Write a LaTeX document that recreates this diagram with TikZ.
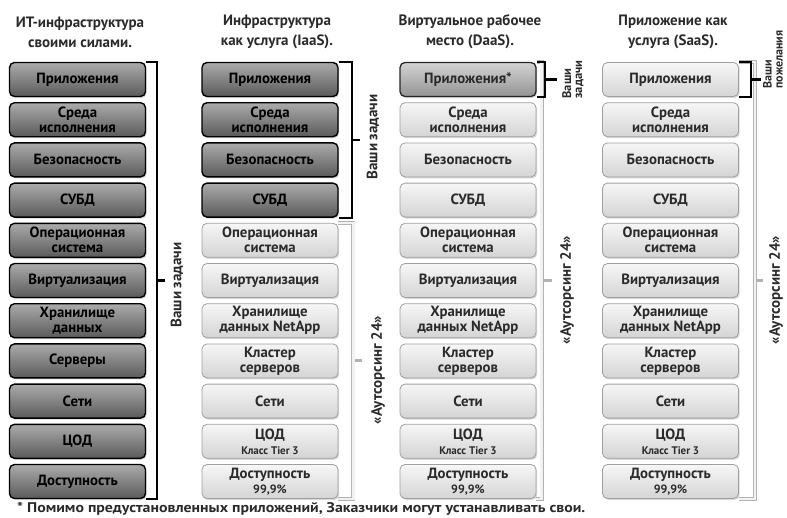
\documentclass[tikz,border=0pt]{standalone}
\usepackage{fontspec}
\setmainfont{PT Sans}
\usetikzlibrary{shadows,calc}
\definecolor{txt}{HTML}{2A2A2A}
\definecolor{darktop}{HTML}{ABABAB}
\definecolor{darkbot}{HTML}{5A5A5A}
\definecolor{midtop}{HTML}{D4D4D4}
\definecolor{midbot}{HTML}{939393}
\definecolor{lighttop}{HTML}{F6F6F6}
\definecolor{lightbot}{HTML}{D4D4D4}
\newcommand{\smalltier}{\fontsize{11}{11.5}\selectfont}
\newcommand{\smallpct}{\fontsize{12}{12.5}\selectfont}
\def\lst{{Среда\\исполнения},{Безопасность},{СУБД},{Операционная\\система},{Виртуализация},{Хранилище\\данных NetApp},{Кластер\\серверов},{Сети},{ЦОД\\{\smalltier Класс Tier 3}},{Доступность\\{\smallpct 99,9\%}}}
\begin{document}
\begin{tikzpicture}[x=1pt,y=-1pt,
  box/.style={rounded corners=5pt, minimum width=136pt, minimum height=34pt,
    align=center, inner sep=1pt, font=\bfseries\fontsize{14.8}{15}\selectfont, text=txt},
  lightbox/.style={box, draw=gray!75, line width=0.8pt, top color=lighttop, bottom color=lightbot,
    drop shadow={shadow xshift=1.2pt, shadow yshift=-1.5pt, opacity=0.3}},
  darkbox/.style={box, draw=black, line width=1.4pt, top color=darktop, bottom color=darkbot,
    text=black, drop shadow={shadow xshift=1.2pt, shadow yshift=-1.5pt, opacity=0.3}},
  midbox/.style={box, draw=black!85, line width=1.3pt, top color=midtop, bottom color=midbot,
    drop shadow={shadow xshift=1.2pt, shadow yshift=-1.5pt, opacity=0.3}},
  darkbr/.style={draw=black, line width=2.2pt},
  lightbr/.style={draw=gray!60, line width=0.8pt, double=gray!10, double distance=2.4pt},
  lighttick/.style={draw=gray!60, line width=3pt},
  lbl/.style={font=\bfseries\fontsize{15}{15}\selectfont, text=txt, rotate=90},
  slbl/.style={font=\bfseries\fontsize{12.5}{11}\selectfont, text=txt, rotate=90, anchor=west, align=left},
  head/.style={font=\bfseries\fontsize{15}{20}\selectfont, text=txt, align=center}
]
\useasboundingbox (0,0) rectangle (787,517);

% headers
\node[head] (h1) at (80,32) {ИТ-инфраструктура\\своими силами.};
\node[head] (h2) at (277,32) {Инфраструктура\\как услуга (IaaS).};
\node[head] (h3) at (470,32) {Виртуальное рабочее\\место (DaaS).};
\node[head] (h4) at (673,32) {Приложение как\\услуга (SaaS).};

% column 1
\foreach \t [count=\i from 0] in {{Приложения},{Среда\\исполнения},{Безопасность},{СУБД},{Операционная\\система},{Виртуализация},{Хранилище\\данных},{Серверы},{Сети},{ЦОД},{Доступность}}
  \node[darkbox] (a\i) at (77.5,{79.5+40.2*\i}) {\t};

% column 2 top (dark)
\foreach \t [count=\i from 0] in {{Приложения},{Среда\\исполнения},{Безопасность},{СУБД}}
  \node[darkbox] (b\i) at (270,{79.5+40.2*\i}) {\t};

% column 3 top, column 4 top
\node[midbox] (c0) at (468,79.5) {Приложения*};
\node[lightbox] (d0) at (670.5,79.5) {Приложения};

% remaining light boxes
\foreach \t [count=\i] in \lst {
  \ifnum\i>3 \node[lightbox] (b\i) at (270,{79.5+40.2*\i}) {\t};\fi
  \node[lightbox] (c\i) at (468,{79.5+40.2*\i}) {\t};
  \node[lightbox] (d\i) at (670.5,{79.5+40.2*\i}) {\t};
}

% column 1 bracket
\draw[darkbr] (a0.north east) -- ++(11,0) coordinate (p1) -- (p1 |- a10.south east) coordinate (q1) -- (a10.south east);
\draw[darkbr] ($(p1)!.5!(q1)$) -- ++(8,0);
\node[lbl] (l1) at (177,285) {Ваши задачи};

% column 2 brackets
\draw[lightbr] (b4.north east) -- ++(15,0) coordinate (p2) -- (p2 |- b10.south east) coordinate (q2) -- (b10.south east);
\draw[lighttick] ($(p2)!.5!(q2)+(2,0)$) -- ++(7,0);
\draw[darkbr] (b0.north east) -- ++(13,0) coordinate (p3) -- (p3 |- b3.south east) coordinate (q3) -- (b3.south east);
\draw[darkbr] ($(p3)!.5!(q3)$) -- ++(8,0);
\node[lbl] (l2) at (373,137) {Ваши задачи};
\node[lbl] (l3) at (378,370) {«Аутсорсинг 24»};

% column 3 brackets
\draw[lightbr] (c0.north east) -- ++(5,0) coordinate (p4) -- (p4 |- c10.south east) coordinate (q4) -- (c10.south east);
\draw[lighttick] ($(p4)!.5!(q4)+(2,0)$) -- ++(8,0);
\draw[darkbr] (c0.north east) -- ++(8,0) coordinate (p5) -- (p5 |- c0.south east) coordinate (q5) -- (c0.south east);
\draw[darkbr] ($(p5)!.5!(q5)$) -- ++(12,0);
\node[slbl] (l4) at (573,102) {Ваши\\задачи};
\node[lbl] (l5) at (567,290) {«Аутсорсинг 24»};

% column 4 brackets
\draw[lightbr] (d0.north east) -- ++(16,0) coordinate (p6) -- (p6 |- d10.south east) coordinate (q6) -- (d10.south east);
\draw[lighttick] ($(p6)!.5!(q6)+(2,0)$) -- ++(6,0);
\draw[darkbr] (d0.north east) -- ++(12,0) coordinate (p7) -- (p7 |- d0.south east) coordinate (q7) -- (d0.south east);
\draw[darkbr] ($(p7)!.5!(q7)$) -- ++(10,0);
\node[slbl, font=\bfseries\fontsize{12}{11}\selectfont] (l6) at (773,92) {Ваши\\пожелания};
\node[lbl] (l7) at (776,290) {«Аутсорсинг 24»};

% footnote
\node[anchor=west, xscale=1.13, transform shape, font=\bfseries\fontsize{14}{14}\selectfont, text=txt, inner sep=0pt] (fn) at (17,509)
  {* Помимо предустановленных приложений, Заказчики могут устанавливать свои.};
\end{tikzpicture}
\end{document}
